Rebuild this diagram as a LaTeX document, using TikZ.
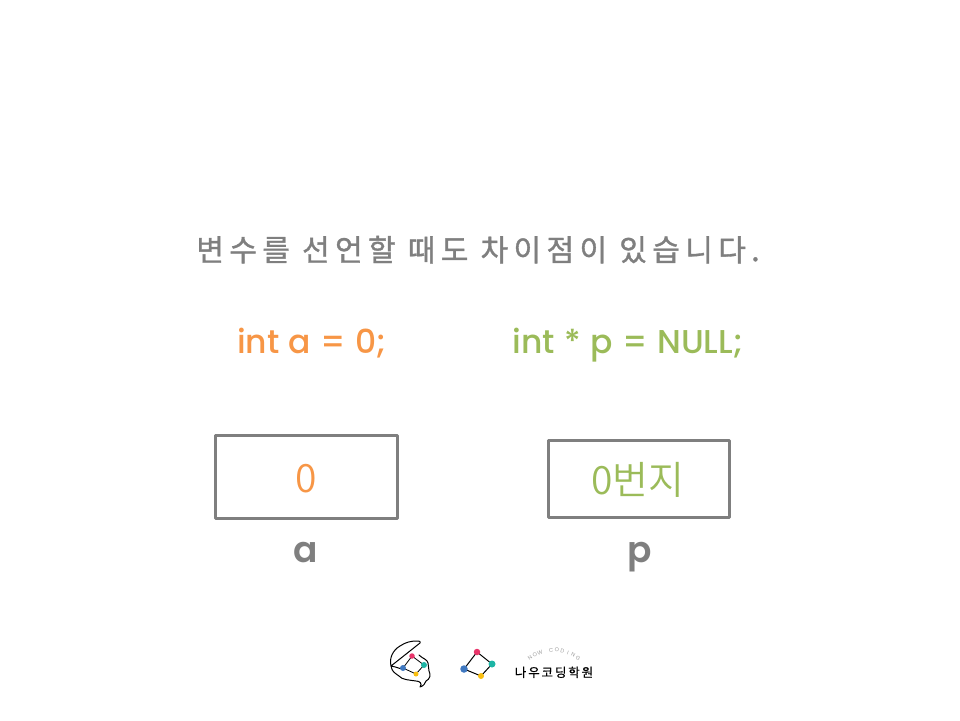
\documentclass[tikz,border=0pt]{standalone}
\usepackage{fontspec}
\usetikzlibrary{calc}
\setmainfont{Poppins}
\newfontfamily\popmed{Poppins SemiBold}
\newfontfamily\popdecl[WordSpace=1.1]{Poppins Medium}
\newfontfamily\krlight{Noto Sans CJK KR DemiLight}
\newfontfamily\krspaced[LetterSpace=18,FakeBold=1.2]{Noto Sans CJK KR}
\newfontfamily\krlogo[LetterSpace=15,FakeBold=0.5]{Noto Sans CJK KR}
\definecolor{grayt}{HTML}{7F7F7F}
\definecolor{orangec}{HTML}{F79646}
\definecolor{greenc}{HTML}{9BBB59}
\definecolor{dotred}{HTML}{E8356A}
\definecolor{dotteal}{HTML}{1DB5A5}
\definecolor{dotblue}{HTML}{3F78C0}
\definecolor{dotyellow}{HTML}{F9BE0F}
\tikzset{
  memorybox/.style={draw=grayt,line width=3pt,line join=round},
  varname/.style={text=grayt,font=\popmed\fontsize{36}{40}\selectfont,anchor=base,inner sep=0pt},
  decl/.style={anchor=base,inner sep=0pt,font=\popdecl\fontsize{33}{36}\selectfont},
  cellvalue/.style={anchor=base,inner sep=0pt,font=\krlight\fontsize{39}{42}\selectfont},
  dot/.style={circle,inner sep=0pt,minimum size=#1}
}
\begin{document}
\begin{tikzpicture}[x=1pt,y=-1pt]
\useasboundingbox (0,0) rectangle (960,720);
\node[text=grayt,anchor=base,font=\krspaced\fontsize{30}{34}\selectfont,inner sep=0pt] (title) at (478,261) {변수를 선언할 때도 차이점이 있습니다.};
\node[decl,text=orangec] (decla) at (312,353) {int a = 0;};
\node[decl,text=greenc] (declp) at (628,353) {int * p = NULL;};
\draw[memorybox] (215,435) rectangle (397.5,518.5);
\draw[memorybox] (548,440.5) rectangle (729.5,517.5);
\node[cellvalue,text=orangec] (vala) at (306,492) {0};
\node[cellvalue,text=greenc] (valp) at (638,494) {0번지};
\node[varname] (namea) at (305.5,562.5) {a};
\node[varname] (namep) at (639.5,562.5) {p};
% logo: shell outline
\draw[black,line width=1pt,line join=round,line cap=round]
  (391,666) .. controls (389,658) and (393,650) .. (400,646)
  .. controls (406,642) and (411,641) .. (417,641)
  .. controls (420,641) and (421,642) .. (420,643)
  -- (391,666)
  .. controls (397,667) and (400,669) .. (403,669)
  (391,666) .. controls (392,672) and (395,673) .. (399,676)
  .. controls (402,680) and (410,680) .. (416,681)
  .. controls (419,681) and (423,683) .. (420,687)
  .. controls (424,686) and (425,683) .. (426,681)
  .. controls (430,679) and (431,675) .. (429,671)
  .. controls (428,668) and (429,666) .. (428,663)
  .. controls (427,659) and (423,659) .. (419,655);
\coordinate (s1) at (412,656);
\coordinate (s2) at (424,665);
\coordinate (s3) at (416,674);
\coordinate (s4) at (403,668);
\draw[black,line width=0.8pt] (s1)--(s2)--(s3)--(s4)--cycle;
\node[dot=5.5pt,fill=dotred] (sd1) at (s1) {};
\node[dot=6pt,fill=dotteal] (sd2) at (s2) {};
\node[dot=5pt,fill=dotyellow] (sd3) at (s3) {};
\node[dot=6pt,fill=dotblue] (sd4) at (s4) {};
% logo: mark
\coordinate (m1) at (477,652);
\coordinate (m2) at (492,664);
\coordinate (m3) at (481,676);
\coordinate (m4) at (464,669);
\draw[black,line width=1pt] (m1)--(m2)--(m3)--(m4)--cycle;
\node[dot=6.5pt,fill=dotred] (md1) at (m1) {};
\node[dot=7pt,fill=dotteal] (md2) at (m2) {};
\node[dot=6pt,fill=dotyellow] (md3) at (m3) {};
\node[dot=7.5pt,fill=dotblue] (md4) at (m4) {};
% logo: word mark
\coordinate (arc) at (554,690);
\foreach \ch/\i in {N/0,O/1,W/2,C/4,O/5,D/6,I/7,N/8,G/9}{
  \pgfmathsetmacro{\ang}{127-8.2*\i}
  \node[text=gray!75,inner sep=0pt,font=\fontsize{5.5}{6}\selectfont,rotate=\ang-90] (arc\i) at ($(arc)+(\ang:40pt)$) {\ch};
}
\node[text=black,anchor=base,font=\krlogo\fontsize{12.5}{14}\selectfont,inner sep=0pt] (brand) at (554,677) {나우코딩학원};
\end{tikzpicture}
\end{document}
